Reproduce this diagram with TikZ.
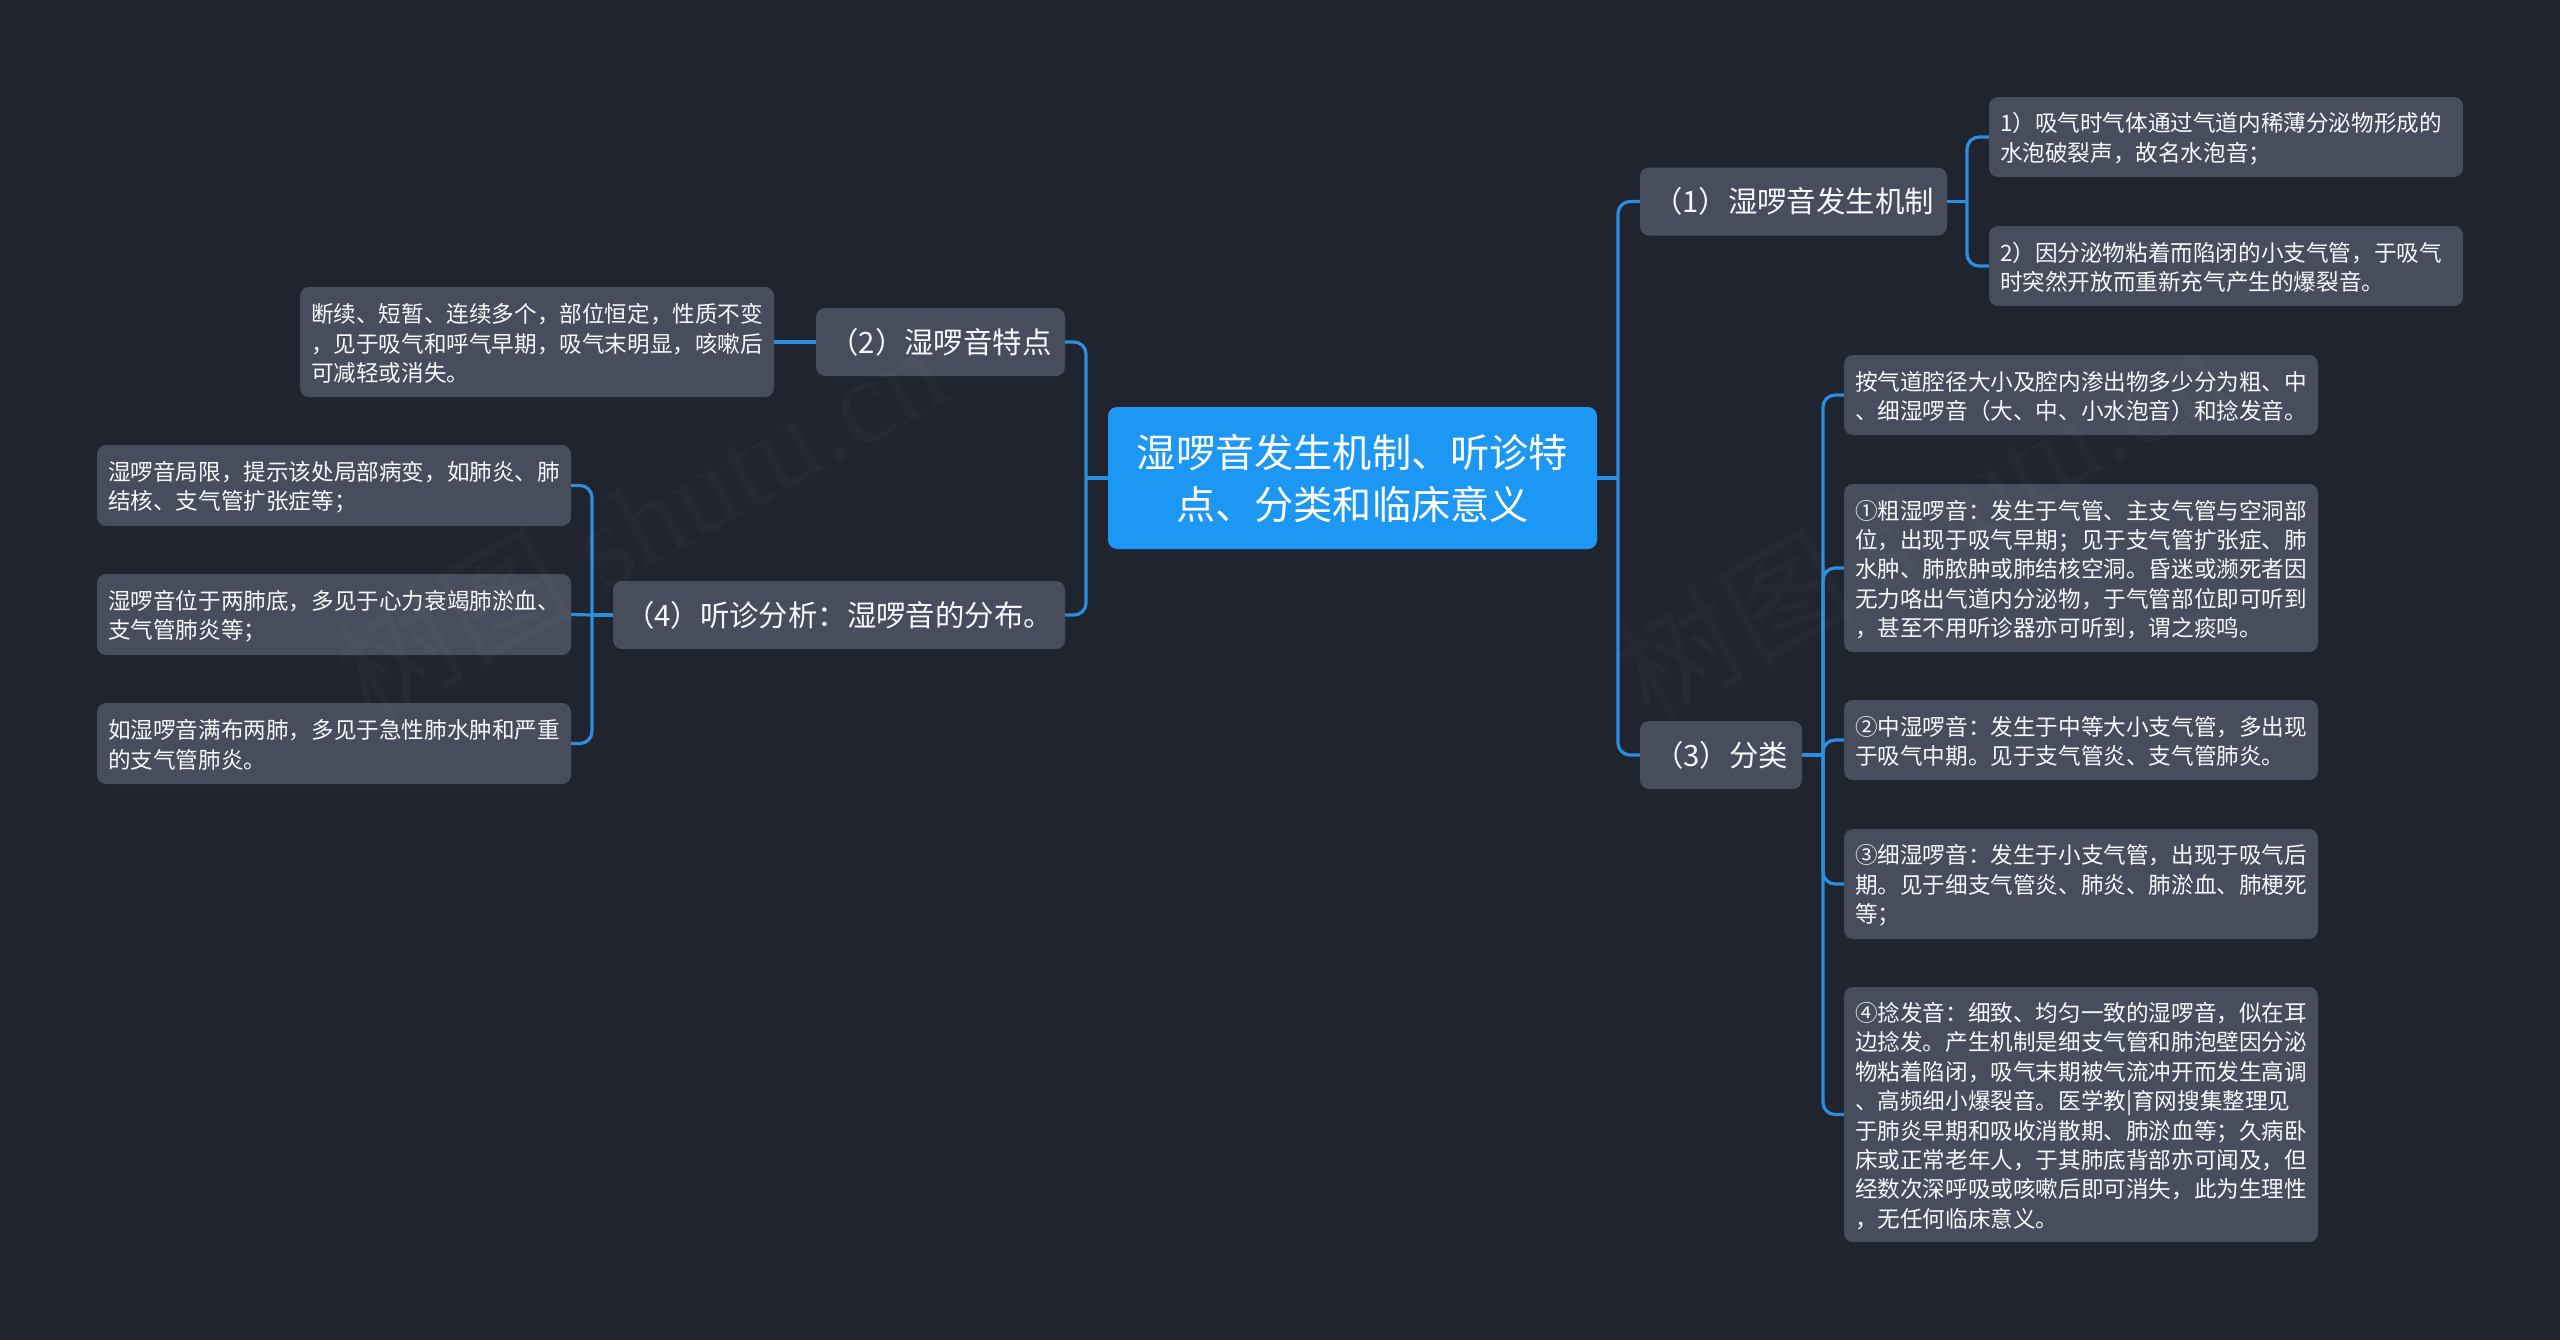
\documentclass[tikz,border=0pt]{standalone}
\usepackage{fontspec}
\setmainfont{Noto Sans CJK SC}
\newfontfamily\wmserif{Liberation Serif}
\definecolor{bgc}{HTML}{20242F}
\definecolor{boxc}{HTML}{474D5C}
\definecolor{rootc}{HTML}{1C97F3}
\definecolor{linkc}{HTML}{2A8FE0}
\definecolor{txtc}{HTML}{F8F8FA}
\tikzset{
  anybox/.style={rounded corners=9pt,inner sep=0pt,text=txtc},
  rootbox/.style={anybox,fill=rootc,text=white,align=center,minimum width=489pt,minimum height=142pt,font=\fontsize{39.2}{52}\selectfont},
  mainbox/.style={anybox,fill=boxc,align=center,minimum height=68pt,font=\fontsize{29.4}{38}\selectfont},
  leaf/.style={anybox,fill=boxc,align=left,minimum width=474pt,text width=452pt,execute at end node={\par\vspace{-3pt}},font=\fontsize{22.6}{29.4}\selectfont},
  link/.style={draw=linkc,line width=3.2pt,rounded corners=12pt},
  wm/.style={text=white,opacity=0.022,rotate=29,font=\fontsize{120}{128}\selectfont}
}
\begin{document}
\begin{tikzpicture}[x=1pt,y=-1pt]
\useasboundingbox (0,0) rectangle (2560,1339);
\fill[bgc] (-6,-6) rectangle (2566,1345);
\node[rootbox] (root) at (1352.5,478) {湿啰音发生机制、听诊特\\点、分类和临床意义};
\node[mainbox,minimum width=307pt] (n1) at (1793.5,201.5) {（1）湿啰音发生机制};
\node[mainbox,minimum width=249pt] (n2) at (940.5,342) {（2）湿啰音特点};
\node[mainbox,minimum width=162pt] (n3) at (1721,755) {（3）分类};
\node[mainbox,minimum width=452pt] (n4) at (839,615) {（4）听诊分析：湿啰音的分布。};
\node[leaf,minimum height=80pt] (a1) at (2226,137) {1）吸气时气体通过气道内稀薄分泌物形成的\\水泡破裂声，故名水泡音；};
\node[leaf,minimum height=80pt] (a2) at (2226,266) {2）因分泌物粘着而陷闭的小支气管，于吸气\\时突然开放而重新充气产生的爆裂音。};
\node[leaf,minimum height=80pt] (c0) at (2081,395) {按气道腔径大小及腔内渗出物多少分为粗、中\\、细湿啰音（大、中、小水泡音）和捻发音。};
\node[leaf,minimum height=168pt] (c1) at (2081,568) {①粗湿啰音：发生于气管、主支气管与空洞部\\位，出现于吸气早期；见于支气管扩张症、肺\\水肿、肺脓肿或肺结核空洞。昏迷或濒死者因\\无力咯出气道内分泌物，于气管部位即可听到\\，甚至不用听诊器亦可听到，谓之痰鸣。};
\node[leaf,minimum height=80pt] (c2) at (2081,740) {②中湿啰音：发生于中等大小支气管，多出现\\于吸气中期。见于支气管炎、支气管肺炎。};
\node[leaf,minimum height=110pt] (c3) at (2081,884) {③细湿啰音：发生于小支气管，出现于吸气后\\期。见于细支气管炎、肺炎、肺淤血、肺梗死\\等；};
\node[leaf,minimum height=255pt] (c4) at (2081,1114.5) {④捻发音：细致、均匀一致的湿啰音，似在耳\\边捻发。产生机制是细支气管和肺泡壁因分泌\\物粘着陷闭，吸气末期被气流冲开而发生高调\\、高频细小爆裂音。医学教|育网搜集整理见\\于肺炎早期和吸收消散期、肺淤血等；久病卧\\床或正常老年人，于其肺底背部亦可闻及，但\\经数次深呼吸或咳嗽后即可消失，此为生理性\\，无任何临床意义。};
\node[leaf,minimum height=110pt] (l1) at (537,342) {断续、短暂、连续多个，部位恒定，性质不变\\，见于吸气和呼气早期，吸气末明显，咳嗽后\\可减轻或消失。};
\node[leaf,minimum height=81pt] (l2) at (334,485.5) {湿啰音局限，提示该处局部病变，如肺炎、肺\\结核、支气管扩张症等；};
\node[leaf,minimum height=81pt] (l3) at (334,614.5) {湿啰音位于两肺底，多见于心力衰竭肺淤血、\\支气管肺炎等；};
\node[leaf,minimum height=81pt] (l4) at (334,743.5) {如湿啰音满布两肺，多见于急性肺水肿和严重\\的支气管肺炎。};
\coordinate (sr) at (1618,478);
\coordinate (sl) at (1086,478);
\coordinate (sa) at (1967,201.5);
\coordinate (sc) at (1823,755);
\coordinate (sd) at (592,615);
\draw[link] (root.east) -- (sr);
\draw[link] (sr) |- (n1.west);
\draw[link] (sr) |- (n3.west);
\draw[link] (root.west) -- (sl);
\draw[link] (sl) |- (n2.east);
\draw[link] (sl) |- (n4.east);
\draw[link] (n1.east) -- (sa);
\draw[link] (sa) |- (a1.west);
\draw[link] (sa) |- (a2.west);
\draw[link] (n3.east) -- (sc);
\draw[link] (sc) |- (c0.west);
\draw[link] (sc) |- (c1.west);
\draw[link] (sc) |- (c2.west);
\draw[link] (sc) |- (c3.west);
\draw[link] (sc) |- (c4.west);
\draw[link] (n2.west) -- (l1.east);
\draw[link] (n4.west) -- (sd);
\draw[link] (sd) |- (l2.east);
\draw[link] (sd) -- (l3.east);
\draw[link] (sd) |- (l4.east);
\node[wm] (w1) at (640,520) {树图 {\wmserif shutu.cn}};
\node[wm] (w2) at (1920,520) {树图 {\wmserif shutu.cn}};
\end{tikzpicture}
\end{document}
